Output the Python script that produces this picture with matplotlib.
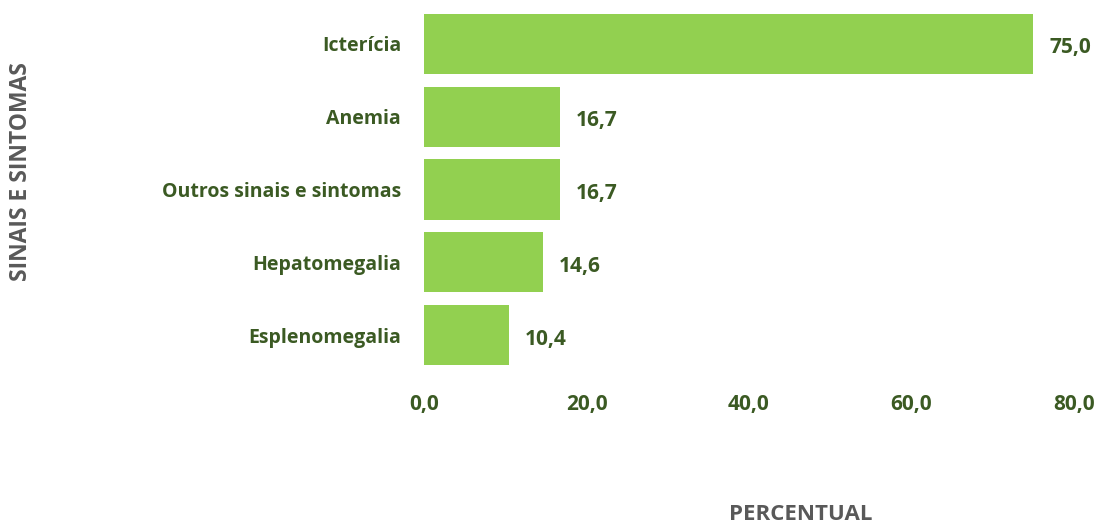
import matplotlib
matplotlib.use("Agg")
import matplotlib.pyplot as plt

categories = ["Icterícia", "Anemia", "Outros sinais e sintomas", "Hepatomegalia", "Esplenomegalia"]
values = [75.0, 16.7, 16.7, 14.6, 10.4]
xticks = [0, 20, 40, 60, 80]
xtick_labels = ["0,0", "20,0", "40,0", "60,0", "80,0"]

plt.rcParams['font.family'] = ['Open Sans', 'DejaVu Sans']
W, H = 1099, 524
fig = plt.figure(figsize=(W/100, H/100), dpi=100)
ax = fig.add_axes([424/W, 1-371.4/H, (1074-424)/W, (371.4-7.6)/H])

green = "#92D050"
dark = "#3B5A23"
gray = "#595959"

ypos = list(range(len(categories)))
ax.barh(ypos, values, height=0.825, color=green)
ax.set_ylim(len(categories)-0.5, -0.5)
ax.set_xlim(0, 80)
ax.set_yticks(ypos)
ax.set_yticklabels(categories, fontsize=14, fontweight='bold', color=dark)
ax.set_xticks(xticks)
ax.set_xticklabels(xtick_labels, fontsize=15, fontweight='bold', color=dark)
ax.tick_params(axis='y', length=0, pad=16.5)
ax.tick_params(axis='x', length=0, pad=16)
for s in ax.spines.values():
    s.set_visible(False)

for y, v in zip(ypos, values):
    ax.annotate(f"{v:.1f}".replace(".", ","), xy=(v, y), xytext=(16, -4),
                textcoords='offset pixels', va='center', ha='left',
                fontsize=15, fontweight='bold', color=dark)

fig.text(21/W, 1-172/H, "SINAIS E SINTOMAS", rotation=90, ha='center', va='center',
         fontsize=16.5, fontweight='bold', color=gray)
fig.text(801/W, 1-514/H, "PERCENTUAL", ha='center', va='center',
         fontsize=16, fontweight='bold', color=gray)

fig.savefig("out.png", dpi=100)
